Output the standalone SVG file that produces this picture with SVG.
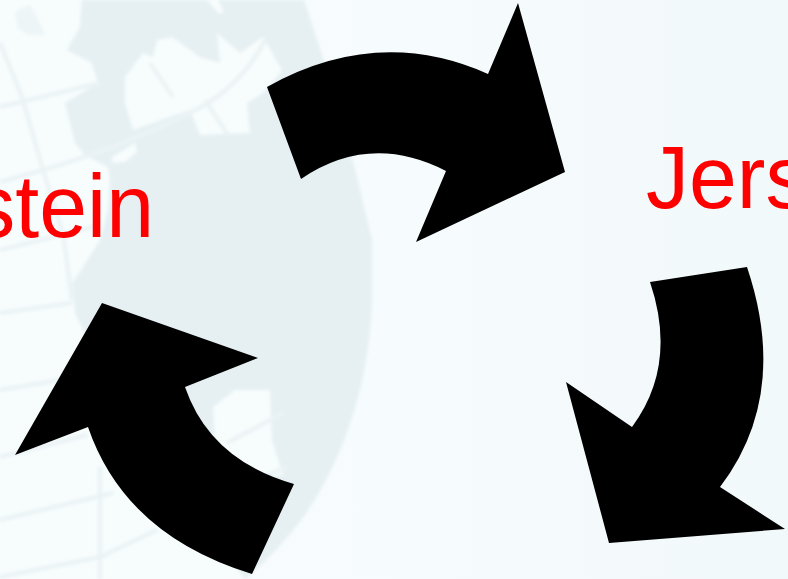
<svg xmlns="http://www.w3.org/2000/svg" width="788" height="579" viewBox="0 0 788 579">
<defs>
<linearGradient id="bg" x1="0" y1="0" x2="1" y2="0"><stop offset="0" stop-color="#f8fcfe"/><stop offset="0.55" stop-color="#f6fbfd"/><stop offset="1" stop-color="#f2f9fb"/></linearGradient>
<filter id="soft" x="-5%" y="-5%" width="110%" height="110%"><feGaussianBlur stdDeviation="1.8"/></filter>
</defs>
<style>
.arrow{fill:#000}
.label{font-family:"Liberation Sans",Arial,sans-serif;font-size:86px;fill:#f00}
.grid{fill:none;stroke:#eaf3f5;stroke-width:4}
.land{fill:#f7fcfd}
</style>
<g id="background">
<rect width="788" height="579" fill="url(#bg)"/>
<g filter="url(#soft)">
<path d="M0 0H304Q345 120 372 240V300Q368 420 305 515Q275 555 245 579L150 450L83 330L75 313L72 283L0 280Z" fill="#e6f0f2"/>
<path class="land" d="M0 0H82L80 27L67 50L92 63L98 83L65 103L75 143L85 155L108 167L110 180L108 210L100 240L78 275L72 283L75 313L83 330L150 450L240 579H0Z"/>
<path d="M15 12L30 5L38 20L45 35L28 35L18 28Z" fill="#edf5f7"/>
<path class="land" d="M125 77L143 53L153 57L157 40L172 37L200 57L220 63L217 33L240 53L263 37L282 70L277 77L263 93L247 103L250 133L200 135L190 110L133 130L125 103Z"/>
<path class="land" d="M207 0L218 0L224 12L219 14Z"/>
<path class="land" d="M112 157L135 143L137 152L125 162L112 163Z"/>
<path class="land" d="M213 407L235 390L270 390L272 440L283 475L240 480L215 440Z"/>
<g id="graticule">
<path class="grid" d="M0 107L100 83"/>
<path class="grid" d="M0 182L43 170Q130 145 205 105Q245 80 265 40"/>
<path class="grid" d="M0 250L93 227"/>
<path class="grid" d="M0 313L72 303"/>
<path class="grid" d="M0 390L60 380"/>
<path class="grid" d="M0 457L87 435"/>
<path class="grid" d="M0 520L113 493"/>
<path class="grid" d="M0 577L100 557L157 530"/>
<path class="grid" d="M227 443L283 413"/>
<path class="grid" d="M263 477L287 467"/>
<path class="grid" d="M0 43L22 97L43 170L63 233L72 300"/>
<path class="grid" d="M100 467V579"/>
<path class="grid" d="M150 63L173 97"/>
<path class="grid" d="M205 100L228 135"/>
</g>
</g>
</g>
<g id="connectors">
<path id="arrow-top" class="arrow" d="M267 87Q378 25 488 74L518 3L565 172L416 242L446 171Q370 132 301 179Z"/>
<path id="arrow-right" class="arrow" d="M650 282L747 267Q790 395 720 487L785 529L609 543L566 382L632 427Q678 365 650 282Z"/>
<path id="arrow-left" class="arrow" d="M294 484L252 574Q125 535 88 427L15 455L102 303L258 358L185 387Q210 460 294 484Z"/>
</g>
<g id="node-stein"><text class="label" transform="translate(154 237) scale(1 1.04)" text-anchor="end">stein</text></g>
<g id="node-jers"><text class="label" transform="translate(646 208) scale(1 1.04)">Jers</text></g>
</svg>
